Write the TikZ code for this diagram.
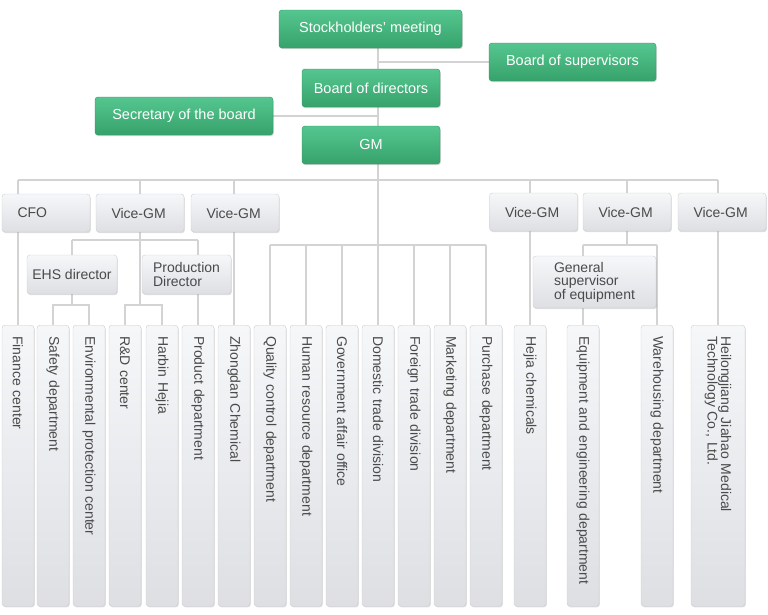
\documentclass[tikz,border=0pt]{standalone}
\usepackage{fontspec}
\setmainfont{Liberation Sans}
\usepackage{xcolor}
\usepackage{tikz}
\usetikzlibrary{shadows, backgrounds}
\definecolor{boardtop}{HTML}{55C690}
\definecolor{boardbot}{HTML}{37A26B}
\definecolor{boardline}{HTML}{2E9461}
\definecolor{unittop}{HTML}{F6F7F9}
\definecolor{unitbot}{HTML}{DDDFE3}
\definecolor{unitline}{HTML}{CDCED2}
\definecolor{unittext}{HTML}{4A4A4A}
\definecolor{wirecol}{HTML}{D3D3D3}
\tikzstyle{board} = [rectangle, rounded corners=3pt, minimum height=38pt, text centered, draw=boardline, top color=boardtop, bottom color=boardbot, text=white, font=\fontsize{14.5}{16}\selectfont, drop shadow={shadow xshift=0.8pt, shadow yshift=-1.2pt, opacity=0.3}]
\tikzstyle{unit} = [rectangle, rounded corners=3pt, draw=unitline, top color=unittop, bottom color=unitbot, text=unittext, font=\fontsize{14}{13.5}\selectfont, drop shadow={shadow xshift=0.8pt, shadow yshift=-1.2pt, opacity=0.25}]
\tikzstyle{vgm} = [unit, minimum width=88pt, minimum height=38pt, text width=57pt, align=left, inner xsep=0pt]
\tikzstyle{head} = [unit, align=left, minimum height=39pt, inner xsep=2pt]
\tikzstyle{dept} = [unit, rotate=-90, anchor=west, minimum width=281pt, minimum height=32pt, text width=259pt, inner xsep=11pt, align=left]
\tikzstyle{link} = [line width=2pt, draw=wirecol]

\begin{document}
\begin{tikzpicture}[x=1pt, y=-1pt]
  \useasboundingbox (0,0) rectangle (768,614);
  % levels of the connector buses
  \coordinate (lvlA) at (0,180);
  \coordinate (lvlB) at (0,240);
  \coordinate (lvlC) at (0,245);
  \coordinate (lvlD) at (0,305);

  \node (stock) [board, minimum width=183pt] at (370.5,29) {Stockholders' meeting};
  \node (sup) [board, minimum width=167pt] at (572.5,62) {Board of supervisors};
  \node (dir) [board, minimum width=138pt] at (371,88) {Board of directors};
  \node (sec) [board, minimum width=178pt] at (184,116) {Secretary of the board};
  \node (gm) [board, minimum width=138pt] at (371,145) {GM};

  \node (cfo) [vgm] at (46,213) {CFO};
  \node (vgm1) [vgm] at (140,213) {Vice-GM};
  \node (vgm2) [vgm] at (235,213) {Vice-GM};
  \node (vgm3) [vgm] at (533.5,212) {Vice-GM};
  \node (vgm4) [vgm] at (627,212) {Vice-GM};
  \node (vgm5) [vgm] at (722,212) {Vice-GM};

  \node (ehs) [head, minimum width=90pt] at (72,274.5) {EHS director};
  \node (pdir) [head, minimum width=89pt] at (186.5,274.5) {Production\\Director};
  \node (gsup) [head, minimum width=123pt, minimum height=52pt] at (594.5,282) {General\\supervisor\\of equipment};

  \node (fin) [dept] at (18,325) {Finance center};
  \node (safe) [dept] at (53,325) {Safety department};
  \node (env) [dept] at (89,325) {Environmental protection center};
  \node (rd) [dept] at (125,325) {R\&D center};
  \node (harbin) [dept] at (162,325) {Harbin Hejia};
  \node (prod) [dept] at (198,325) {Product department};
  \node (zhong) [dept] at (234,325) {Zhongdan Chemical};
  \node (qual) [dept] at (270,325) {Quality control department};
  \node (hr) [dept] at (306,325) {Human resource department};
  \node (gov) [dept] at (342,325) {Government affair office};
  \node (dom) [dept] at (378,325) {Domestic trade division};
  \node (frn) [dept] at (414,325) {Foreign trade division};
  \node (mkt) [dept] at (450,325) {Marketing department};
  \node (pur) [dept] at (486,325) {Purchase department};
  \node (hejia) [dept] at (530,325) {Hejia chemicals};
  \node (equip) [dept] at (583,325) {Equipment and engineering department};
  \node (ware) [dept] at (657,325) {Warehousing department};
  \node (heil) [dept, minimum height=54pt] at (718,325) {Heilongjiang Jiahao Medical\\Technology Co., Ltd.};

  \begin{scope}[on background layer]
  \draw[link] (stock.south -| dom.west) -- (dom.west |- lvlC);
  \draw[link] (sup.west) -- (sup.west -| dom.west);
  \draw[link] (sec.east) -- (sec.east -| dom.west);
  % vice-GM row
  \draw[link] (fin.west |- lvlA) -- (heil.west |- lvlA);
  \draw[link] (fin.west) -- (fin.west |- lvlA);
  \draw[link] (vgm1.north) -- (vgm1.north |- lvlA);
  \draw[link] (zhong.west) -- (zhong.west |- lvlA);
  \draw[link] (hejia.west) -- (hejia.west |- lvlA);
  \draw[link] (vgm4.north) -- (vgm4.north |- lvlA);
  \draw[link] (heil.west) -- (heil.west |- lvlA);
  % under the first vice-GM
  \draw[link] (vgm1.south) -- (vgm1.south |- lvlD);
  \draw[link] (ehs.north |- lvlB) -- (prod.west |- lvlB);
  \draw[link] (ehs.north) -- (ehs.north |- lvlB);
  \draw[link] (prod.west) -- (prod.west |- lvlB);
  \draw[link] (rd.west) -- (rd.west |- lvlD) -- (harbin.west |- lvlD) -- (harbin.west);
  \draw[link] (ehs.south) -- (ehs.south |- lvlD);
  \draw[link] (safe.west) -- (safe.west |- lvlD) -- (env.west |- lvlD) -- (env.west);
  % departments under the GM
  \draw[link] (qual.west |- lvlC) -- (pur.west |- lvlC);
  \draw[link] (qual.west) -- (qual.west |- lvlC);
  \draw[link] (hr.west) -- (hr.west |- lvlC);
  \draw[link] (gov.west) -- (gov.west |- lvlC);
  \draw[link] (dom.west) -- (dom.west |- lvlC);
  \draw[link] (frn.west) -- (frn.west |- lvlC);
  \draw[link] (mkt.west) -- (mkt.west |- lvlC);
  \draw[link] (pur.west) -- (pur.west |- lvlC);
  % under the fourth vice-GM
  \draw[link] (vgm4.south) -- (vgm4.south |- lvlC);
  \draw[link] (equip.west |- lvlC) -- (ware.west |- lvlC);
  \draw[link] (equip.west) -- (equip.west |- lvlC);
  \draw[link] (ware.west) -- (ware.west |- lvlC);
  \end{scope}
\end{tikzpicture}
\end{document}
